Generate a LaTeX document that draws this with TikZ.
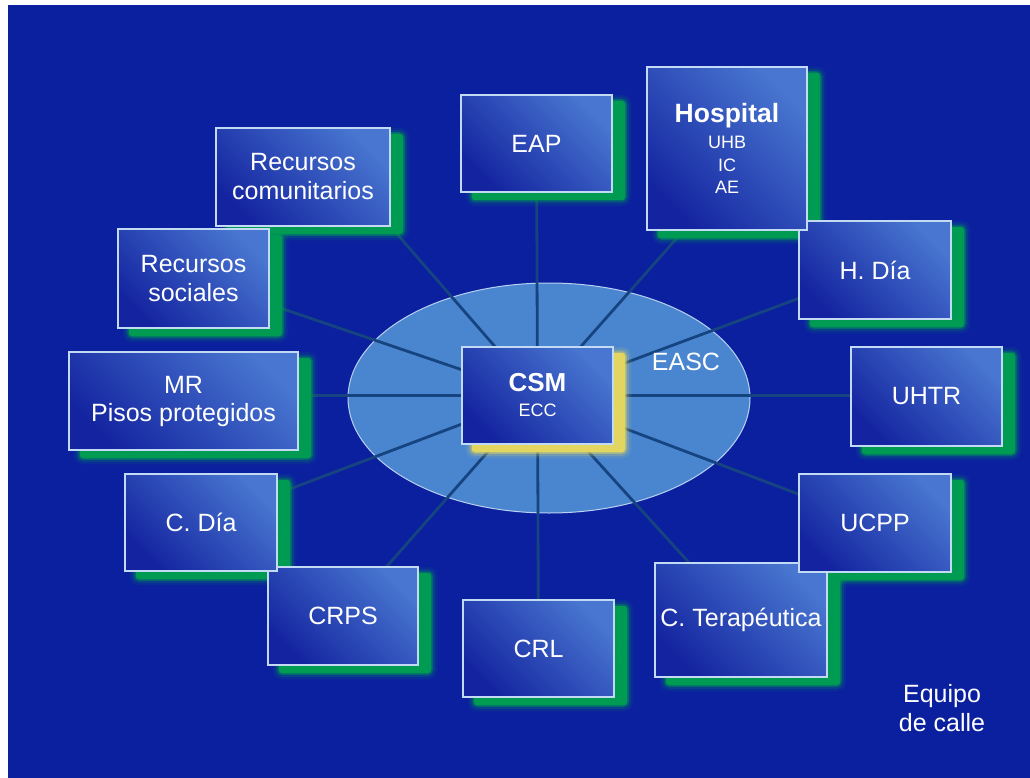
\documentclass[tikz,border=0pt]{standalone}
\usepackage{fontspec}
\setmainfont{Liberation Sans}
\usetikzlibrary{calc,backgrounds}

\definecolor{slideblue}{RGB}{11,32,159}
\definecolor{boxdark}{RGB}{20,36,160}
\definecolor{boxlight}{RGB}{72,118,208}
\definecolor{boxrim}{RGB}{195,218,245}
\definecolor{ringfill}{RGB}{74,134,208}
\definecolor{ringrim}{RGB}{185,208,240}
\definecolor{spoke}{RGB}{22,68,128}
\definecolor{glowgreen}{RGB}{0,155,82}
\definecolor{glowyellow}{RGB}{226,214,96}

\pgfdeclarelayer{base}
\pgfdeclarelayer{spokes}
\pgfdeclarelayer{glow}
\pgfsetlayers{base,spokes,glow,main}

\tikzset{
  unit/.style={shading=axis, bottom color=boxdark, top color=boxlight,
    shading angle=-45, draw=boxrim, line width=1.5pt, text=white,
    align=center, inner sep=0pt, font=\fontsize{25}{29}\selectfont},
  softglow/.style={draw=#1, fill=#1, line width=1pt, rounded corners=3pt,
    preaction={draw=#1, line width=13pt, draw opacity=.10},
    preaction={draw=#1, line width=8pt, draw opacity=.20},
    preaction={draw=#1, line width=4pt, draw opacity=.40}},
  spokeline/.style={draw=spoke, line width=2.8pt},
  label/.style={text=white, align=center, font=\fontsize{25}{29}\selectfont}
}

\begin{document}
\begin{tikzpicture}[x=1pt, y=-1pt]
\useasboundingbox (0,0) rectangle (1030,778);

\begin{pgfonlayer}{base}
  \fill[white] (0,0) rectangle (1030,778);
  \fill[slideblue] (8,5) rectangle (1030,778);
  \path[fill=ringfill, draw=ringrim, line width=1pt] (549,398) ellipse [x radius=201, y radius=115];
\end{pgfonlayer}

% peripheral units (later ones lie on top of earlier ones)
\node[unit, minimum width=174pt, minimum height=98pt] (rc) at (303,177) {Recursos\\comunitarios};
\node[unit, minimum width=151pt, minimum height=97pt] (eap) at (536.5,143.5) {EAP};
\node[unit, minimum width=152pt, minimum height=98pt] (hdia) at (875,270) {H. Día};
\node[unit, minimum width=160pt, minimum height=163pt, font=\fontsize{18}{22.5}\selectfont] (hosp) at (727,148.5)
  {{\fontsize{26.5}{26.5}\selectfont\bfseries Hospital}\\[3.5pt]UHB\\IC\\AE};
\node[unit, minimum width=151pt, minimum height=99pt] (uhtr) at (926.5,396.5) {UHTR};
\node[unit, minimum width=172pt, minimum height=114pt] (cter) at (741,620) {C. Terapéutica};
\node[unit, minimum width=152pt, minimum height=98pt] (ucpp) at (875,523) {UCPP};
\node[unit, minimum width=151pt, minimum height=97pt] (crl) at (538.5,648.5) {CRL};
\node[unit, minimum width=150pt, minimum height=98pt] (crps) at (343,616) {CRPS};
\node[unit, minimum width=152pt, minimum height=97pt] (cdia) at (201,522.5) {C. Día};
\node[unit, minimum width=229pt, minimum height=98pt, font=\fontsize{25}{28}\selectfont] (mr) at (183.5,401) {MR\\Pisos protegidos};
\node[unit, minimum width=151pt, minimum height=99pt] (rs) at (193.5,278.5) {Recursos\\sociales};

% central unit
\node[unit, minimum width=151pt, minimum height=97pt, font=\fontsize{18}{22.5}\selectfont] (csm) at (537.5,395.5)
  {{\fontsize{26}{26}\selectfont\bfseries CSM}\\[2.5pt]ECC};

\node[label] (easc) at (686,362) {EASC};
\node[label] (calle) at (942,708) {Equipo\\de calle};

% soft drop glows behind the units
\begin{pgfonlayer}{glow}
  \foreach \n in {rc,eap,hdia,hosp,uhtr,cter,ucpp,crl,crps,cdia,mr,rs}{
    \path[softglow=glowgreen] ($(\n.north west)+(12,7)$) rectangle ($(\n.south east)+(12,7)$);
  }
  \path[softglow=glowyellow] ($(csm.north west)+(11,7)$) rectangle ($(csm.south east)+(11,7)$);
\end{pgfonlayer}

% spokes from the centre to every unit
\begin{pgfonlayer}{spokes}
  \draw[spokeline] (csm.center) -- (eap.center);
  \draw[spokeline] (csm.center) -- ($(hosp.south west)!0.23!(hosp.south east)$);
  \draw[spokeline] (csm.center) -- (hdia.center);
  \draw[spokeline] (csm.center) -- (csm.center -| uhtr.center);
  \draw[spokeline] (csm.center) -- (ucpp.center);
  \draw[spokeline] (csm.center) -- (cter.center);
  \draw[spokeline] (csm.center) -- (crl.center);
  \draw[spokeline] (csm.center) -- (crps.center);
  \draw[spokeline] (csm.center) -- (cdia.center);
  \draw[spokeline] (csm.center) -- (csm.center -| mr.center);
  \draw[spokeline] (csm.center) -- (rs.center);
  \draw[spokeline] (csm.center) -- (rc.south east);
\end{pgfonlayer}
\end{tikzpicture}
\end{document}
